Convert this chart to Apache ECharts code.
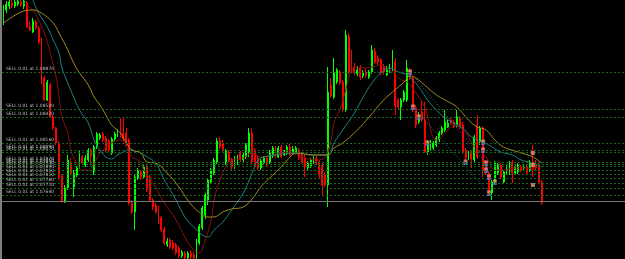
<!DOCTYPE html>
<html>
<head>
<meta charset="utf-8">
<script src="https://cdn.jsdelivr.net/npm/echarts@6/dist/echarts.min.js"></script>
<style>
html,body{margin:0;padding:0;background:#000;}
#chart{width:625px;height:259px;}
</style>
</head>
<body>
<div id="chart"></div>
<script>
// ---- data (EURUSD-like M-chart) ----
const open = [
1.0939,1.0949,1.0953,1.0956,1.0953,1.0955,1.0957,1.0953,1.0956,1.0932,
1.0927,1.0937,1.0931,1.0919,1.0881,1.0859,1.0874,1.0842,1.0831,1.0816,
1.0783,1.0757,1.0771,1.0796,1.0772,1.0784,1.0792,1.0802,1.0794,1.0799,
1.0809,1.0787,1.0812,1.0821,1.0825,1.0821,1.0818,1.0806,1.0820,1.0824,
1.0828,1.0826,1.0826,1.0819,1.0756,1.0747,1.0781,1.0787,1.0782,1.0792,
1.0782,1.0759,1.0754,1.0751,1.0741,1.0730,1.0714,1.0719,1.0716,1.0714,
1.0711,1.0703,1.0706,1.0701,1.0706,1.0704,1.0701,1.0716,1.0731,1.0744,
1.0759,1.0777,1.0786,1.0797,1.0818,1.0816,1.0796,1.0807,1.0799,1.0792,
1.0796,1.0806,1.0799,1.0802,1.0807,1.0826,1.0809,1.0801,1.0791,1.0796,
1.0801,1.0797,1.0803,1.0811,1.0802,1.0812,1.0804,1.0806,1.0812,1.0805,
1.0807,1.0809,1.0804,1.0801,1.0791,1.0793,1.0797,1.0801,1.0796,1.0794,
1.0784,1.0774,1.0874,1.0862,1.0877,1.0887,1.0877,1.0849,1.0923,1.0907,
1.0892,1.0885,1.0891,1.0883,1.0887,1.0882,1.0887,1.0908,1.0901,1.0899,
1.0892,1.0884,1.0888,1.0889,1.0897,1.0859,1.0852,1.0859,1.0859,1.0889,
1.0881,1.0851,1.0837,1.0847,1.0839,1.0807,1.0811,1.0811,1.0814,1.0819,
1.0826,1.0829,1.0832,1.0839,1.0837,1.0834,1.0841,1.0834,1.0809,1.0801,
1.0807,1.0799,1.0834,1.0817,1.0831,1.0797,1.0786,1.0766,1.0777,1.0786,
1.0794,1.0777,1.0786,1.0786,1.0797,1.0786,1.0787,1.0792,1.0791,1.0792,
1.0789,1.0797,1.0794,1.0794,1.0777
];
const close = [
1.0951,1.0955,1.0957,1.0953,1.0957,1.0958,1.0954,1.0958,1.0932,1.0929,
1.0938,1.0931,1.0917,1.0877,1.0859,1.0877,1.0842,1.0831,1.0816,1.0782,
1.0758,1.0771,1.0799,1.0786,1.0786,1.0791,1.0806,1.0796,1.0801,1.0809,
1.0803,1.0812,1.0825,1.0824,1.0819,1.0809,1.0809,1.0820,1.0825,1.0828,
1.0823,1.0820,1.0816,1.0756,1.0747,1.0782,1.0789,1.0782,1.0792,1.0769,
1.0759,1.0752,1.0747,1.0737,1.0729,1.0716,1.0718,1.0712,1.0711,1.0706,
1.0703,1.0707,1.0701,1.0706,1.0702,1.0701,1.0718,1.0733,1.0751,1.0764,
1.0779,1.0789,1.0799,1.0818,1.0812,1.0809,1.0808,1.0799,1.0792,1.0801,
1.0802,1.0799,1.0804,1.0814,1.0826,1.0797,1.0793,1.0791,1.0798,1.0801,
1.0795,1.0807,1.0811,1.0803,1.0811,1.0802,1.0807,1.0812,1.0804,1.0810,
1.0811,1.0801,1.0797,1.0792,1.0796,1.0799,1.0801,1.0796,1.0784,1.0774,
1.0774,1.0867,1.0863,1.0887,1.0889,1.0876,1.0849,1.0924,1.0887,1.0889,
1.0886,1.0889,1.0882,1.0887,1.0884,1.0887,1.0909,1.0897,1.0897,1.0886,
1.0887,1.0889,1.0891,1.0893,1.0853,1.0852,1.0859,1.0867,1.0891,1.0881,
1.0849,1.0834,1.0843,1.0839,1.0807,1.0816,1.0817,1.0816,1.0821,1.0826,
1.0831,1.0837,1.0836,1.0836,1.0832,1.0842,1.0832,1.0807,1.0801,1.0806,
1.0800,1.0822,1.0802,1.0831,1.0789,1.0786,1.0766,1.0777,1.0796,1.0794,
1.0782,1.0787,1.0793,1.0796,1.0786,1.0792,1.0794,1.0789,1.0792,1.0786,
1.0797,1.0791,1.0791,1.0777,1.0756
];
const high = [
1.0954,1.0958,1.0959,1.0959,1.0959,1.0959,1.0959,1.0959,1.0958,1.0937,
1.0941,1.0939,1.0933,1.0921,1.0883,1.0879,1.0876,1.0844,1.0832,1.0818,
1.0785,1.0774,1.0804,1.0801,1.0789,1.0793,1.0808,1.0804,1.0804,1.0811,
1.0811,1.0814,1.0827,1.0826,1.0827,1.0823,1.0820,1.0822,1.0827,1.0830,
1.0841,1.0841,1.0831,1.0821,1.0759,1.0784,1.0791,1.0789,1.0794,1.0794,
1.0784,1.0761,1.0756,1.0753,1.0743,1.0732,1.0721,1.0721,1.0719,1.0716,
1.0713,1.0709,1.0708,1.0708,1.0709,1.0707,1.0720,1.0735,1.0753,1.0766,
1.0781,1.0791,1.0801,1.0821,1.0822,1.0819,1.0810,1.0809,1.0801,1.0803,
1.0804,1.0808,1.0807,1.0816,1.0831,1.0831,1.0811,1.0803,1.0800,1.0803,
1.0803,1.0809,1.0813,1.0813,1.0813,1.0814,1.0809,1.0814,1.0815,1.0813,
1.0813,1.0811,1.0807,1.0804,1.0798,1.0801,1.0803,1.0803,1.0799,1.0797,
1.0787,1.0892,1.0881,1.0901,1.0891,1.0889,1.0879,1.0929,1.0926,1.0909,
1.0896,1.0893,1.0894,1.0889,1.0890,1.0889,1.0914,1.0911,1.0904,1.0901,
1.0895,1.0893,1.0895,1.0909,1.0901,1.0861,1.0861,1.0869,1.0899,1.0891,
1.0883,1.0854,1.0847,1.0859,1.0857,1.0819,1.0819,1.0818,1.0823,1.0828,
1.0833,1.0849,1.0839,1.0841,1.0839,1.0849,1.0843,1.0837,1.0811,1.0808,
1.0809,1.0824,1.0844,1.0833,1.0833,1.0799,1.0788,1.0779,1.0798,1.0796,
1.0796,1.0789,1.0795,1.0798,1.0799,1.0794,1.0796,1.0794,1.0794,1.0794,
1.0799,1.0814,1.0799,1.0796,1.0779
];
const low = [
1.0934,1.0946,1.0950,1.0951,1.0951,1.0953,1.0952,1.0950,1.0931,1.0928,
1.0926,1.0929,1.0915,1.0875,1.0858,1.0858,1.0841,1.0829,1.0814,1.0779,
1.0756,1.0756,1.0769,1.0784,1.0762,1.0782,1.0790,1.0794,1.0792,1.0797,
1.0794,1.0784,1.0810,1.0819,1.0817,1.0807,1.0807,1.0804,1.0818,1.0822,
1.0821,1.0818,1.0813,1.0754,1.0745,1.0729,1.0779,1.0779,1.0780,1.0767,
1.0757,1.0749,1.0745,1.0735,1.0727,1.0714,1.0712,1.0710,1.0709,1.0704,
1.0701,1.0701,1.0700,1.0700,1.0700,1.0700,1.0700,1.0714,1.0729,1.0740,
1.0754,1.0775,1.0784,1.0795,1.0810,1.0807,1.0794,1.0797,1.0789,1.0790,
1.0794,1.0797,1.0797,1.0800,1.0802,1.0794,1.0791,1.0789,1.0789,1.0794,
1.0793,1.0795,1.0801,1.0801,1.0801,1.0801,1.0803,1.0804,1.0803,1.0804,
1.0806,1.0799,1.0795,1.0782,1.0789,1.0791,1.0795,1.0794,1.0781,1.0764,
1.0772,1.0752,1.0861,1.0860,1.0875,1.0874,1.0847,1.0847,1.0885,1.0886,
1.0884,1.0883,1.0879,1.0881,1.0881,1.0880,1.0885,1.0895,1.0894,1.0884,
1.0884,1.0883,1.0886,1.0888,1.0844,1.0849,1.0839,1.0857,1.0857,1.0879,
1.0847,1.0831,1.0835,1.0837,1.0806,1.0804,1.0809,1.0809,1.0812,1.0817,
1.0824,1.0827,1.0831,1.0834,1.0831,1.0832,1.0830,1.0805,1.0797,1.0799,
1.0791,1.0797,1.0800,1.0814,1.0782,1.0784,1.0764,1.0759,1.0775,1.0784,
1.0780,1.0775,1.0784,1.0784,1.0776,1.0784,1.0785,1.0787,1.0789,1.0784,
1.0787,1.0782,1.0789,1.0775,1.0754
];

// Moving averages: [bar index, price]
const maFast = [
[7,1.0956],[10,1.0949],[12,1.0939],[14,1.0926],[16,1.0906],[18,1.0882],[19,1.0862],[20,1.0842],
[22,1.0826],[23,1.0809],[25,1.0796],[27,1.0789],[29,1.0789],[31,1.0796],[33,1.0806],[35,1.0812],
[37,1.0816],[40,1.0819],[42,1.0812],[44,1.0802],[46,1.0799],[48,1.0789],[52,1.0772],[55,1.0756],
[59,1.0739],[62,1.0722],[65,1.0709],[67,1.0706],[69,1.0719],[71,1.0739],[72,1.0759],[74,1.0779],
[76,1.0792],[78,1.0799],[82,1.0801],[85,1.0806],[88,1.0802],[92,1.0804],[98,1.0807],[102,1.0802],
[107,1.0799],[110,1.0802],[112,1.0819],[113,1.0836],[115,1.0849],[117,1.0869],[119,1.0889],[121,1.0892],
[124,1.0891],[126,1.0892],[129,1.0894],[131,1.0891],[133,1.0887],[136,1.0879],[138,1.0877],[141,1.0866],
[144,1.0852],[148,1.0819],[151,1.0826],[154,1.0834],[158,1.0826],[161,1.0812],[165,1.0802],[168,1.0789],
[171,1.0789],[175,1.0791],[178,1.0791],[182,1.0789],[184,1.0786]
];
const maMid = [
[10,1.0959],[12,1.0946],[15,1.0932],[17,1.0919],[19,1.0906],[20,1.0891],[22,1.0876],[24,1.0862],
[26,1.0849],[29,1.0836],[31,1.0819],[33,1.0809],[35,1.0802],[37,1.0800],[39,1.0804],[41,1.0807],
[43,1.0809],[46,1.0807],[48,1.0804],[52,1.0796],[55,1.0779],[59,1.0759],[62,1.0742],[65,1.0732],
[68,1.0724],[70,1.0722],[72,1.0729],[75,1.0737],[78,1.0749],[82,1.0766],[85,1.0786],[87,1.0799],
[89,1.0802],[93,1.0804],[100,1.0806],[106,1.0804],[111,1.0804],[113,1.0816],[116,1.0829],[120,1.0846],
[123,1.0862],[126,1.0876],[129,1.0886],[132,1.0891],[135,1.0887],[138,1.0884],[142,1.0872],[145,1.0859],
[149,1.0846],[152,1.0839],[157,1.0831],[160,1.0822],[164,1.0817],[167,1.0812],[170,1.0807],[174,1.0804],
[177,1.0799],[181,1.0796],[184,1.0792]
];
const maSlow = [
[0,1.0936],[6,1.0947],[10,1.0949],[13,1.0946],[17,1.0936],[19,1.0926],[22,1.0909],[24,1.0896],
[26,1.0886],[29,1.0874],[31,1.0862],[33,1.0854],[35,1.0844],[37,1.0834],[40,1.0826],[42,1.0816],
[44,1.0809],[47,1.0806],[49,1.0797],[52,1.0796],[56,1.0786],[60,1.0772],[63,1.0759],[66,1.0749],
[70,1.0742],[72,1.0742],[75,1.0747],[78,1.0750],[82,1.0752],[85,1.0760],[88,1.0772],[91,1.0781],
[95,1.0792],[98,1.0802],[100,1.0806],[106,1.0804],[111,1.0804],[113,1.0811],[116,1.0816],[121,1.0829],
[125,1.0842],[130,1.0859],[133,1.0867],[137,1.0877],[139,1.0883],[141,1.0881],[144,1.0874],[148,1.0864],
[151,1.0859],[155,1.0852],[159,1.0839],[162,1.0832],[165,1.0829],[168,1.0819],[171,1.0812],[176,1.0807],
[181,1.0802],[184,1.0796]
];

// Pending order levels and bid line
const sellLevels = [1.0887,1.0850,1.0842,1.0816,1.0809,1.0807,1.0797,1.0795,1.0793,1.0789,1.0785,1.0781,1.0776,1.0771,1.0764];
const bidPrice = 1.0758;

// Trade markers and history lines
const tradeMarks = [[139,1.0887],[140,1.0852],[142,1.0842],[145,1.0816],[158,1.0797],[164,1.0817],[164,1.0809],[165,1.0796],[165,1.0789],[166,1.0782],[166,1.0766],[168,1.0777]];
const closeMarks = [[181,1.0806],[181,1.0794],[181,1.0774]];
const tradeLineA = [[139,1.0887],[165,1.0796]];
const tradeLineB = [[140,1.0852],[166,1.0766]];

const totalSlots = 213;
const categories = Array.from({length: totalSlots}, (_, i) => 'Bar ' + (i + 1));

const candleData = open.map((o, i) => [o, close[i], low[i], high[i]]);

const chart = echarts.init(document.getElementById('chart'), null, {renderer: 'canvas'});
chart.setOption({
  animation: false,
  backgroundColor: '#000000',
  grid: {left: 2, right: 0, top: 0, bottom: 0},
  xAxis: {
    type: 'category', data: categories, boundaryGap: true,
    axisLine: {show: false}, axisTick: {show: false}, axisLabel: {show: false}, splitLine: {show: false}
  },
  yAxis: {
    type: 'value', min: 1.0700, max: 1.0959, scale: true,
    axisLine: {show: false}, axisTick: {show: false}, axisLabel: {show: false}, splitLine: {show: false}
  },
  graphic: [{type: 'rect', left: 0, top: 0, shape: {width: 2, height: 259}, style: {fill: '#7f7f7f'}, silent: true}],
  series: [
    {
      type: 'candlestick', name: 'Price', data: candleData, barWidth: 1.4,
      itemStyle: {color: '#00ff00', color0: '#ff0000', borderColor: '#00ff00', borderColor0: '#ff0000', borderWidth: 1},
      markLine: {
        silent: true, symbol: ['none', 'none'], animation: false, precision: 5,
        data: sellLevels.map(p => ({
          yAxis: p,
          lineStyle: {color: '#1e661e', type: [2, 2], width: 1},
          label: {show: true, position: 'insideStartTop', distance: [4, 1], formatter: 'SELL 0.01 at ' + p.toFixed(5),
                  color: '#bdbdbd', fontSize: 4.5, fontFamily: 'DejaVu Sans'}
        })).concat([{
          yAxis: bidPrice, lineStyle: {color: '#767676', type: 'solid', width: 1}, label: {show: false}
        }])
      }
    },
    {type: 'line', name: 'MA fast', data: maFast, smooth: 0.4, showSymbol: false, lineStyle: {color: '#8b0f0f', width: 1}, z: 3},
    {type: 'line', name: 'MA mid', data: maMid, smooth: 0.4, showSymbol: false, lineStyle: {color: '#1e8080', width: 1}, z: 3},
    {type: 'line', name: 'MA slow', data: maSlow, smooth: 0.4, showSymbol: false, lineStyle: {color: '#a08a1e', width: 1}, z: 3},
    {type: 'line', name: 'Trade A', data: tradeLineA, showSymbol: false, lineStyle: {color: '#2f6f9a', width: 1, type: [1, 2]}, z: 3},
    {type: 'line', name: 'Trade B', data: tradeLineB, showSymbol: false, lineStyle: {color: '#2f6f9a', width: 1, type: [1, 2]}, z: 3},
    {type: 'scatter', name: 'Open marks', data: tradeMarks, symbol: 'rect', symbolSize: [4, 3], symbolOffset: [0, -1],
     itemStyle: {color: '#e0907c'}, z: 5},
    {type: 'scatter', name: 'Open marks b', data: tradeMarks, symbol: 'rect', symbolSize: [4, 2], symbolOffset: [0, 2],
     itemStyle: {color: '#4a80c8'}, z: 5},
    {type: 'scatter', name: 'Close marks', data: closeMarks, symbol: 'rect', symbolSize: [4, 4],
     itemStyle: {color: '#e0907c'}, z: 5}
  ]
});
</script>
</body>
</html>
